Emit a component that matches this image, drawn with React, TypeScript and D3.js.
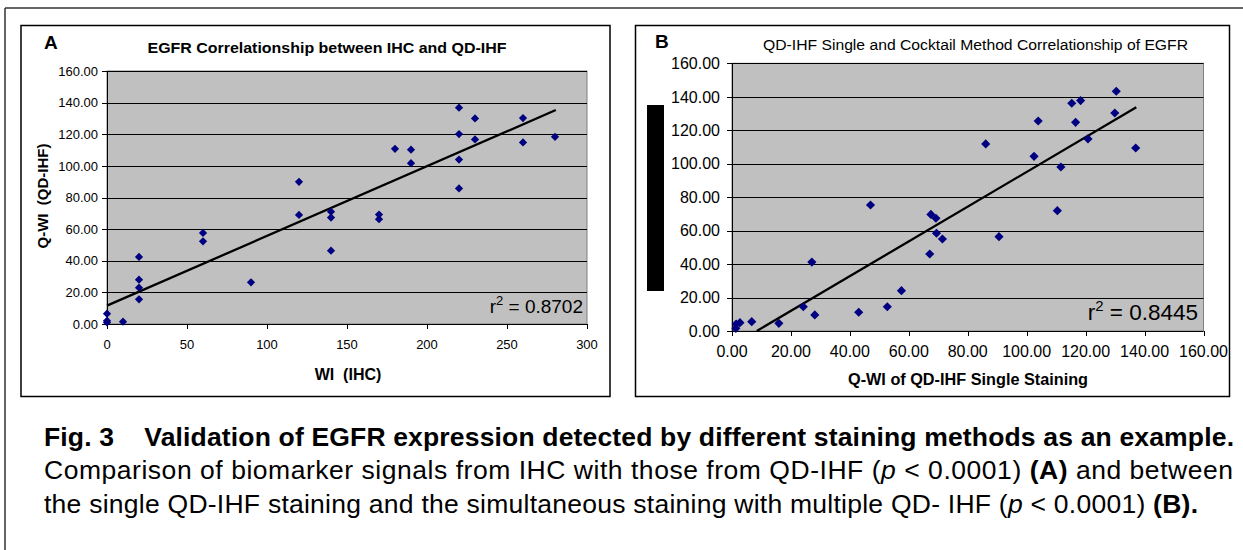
import React from 'react';
import * as d3 from 'd3';

// Panel A: WI by IHC vs Q-WI by QD-IHF
const wiIHC = [0, 0, 0, 10, 20, 20, 20, 20, 60, 60, 90, 120, 120, 140, 140, 140, 170, 170, 180, 190, 190, 220, 220, 220, 220, 230, 230, 260, 260, 280];
const qwiQD = [6.5, 2, 1, 1.5, 42.4, 28, 23, 15.6, 57.6, 52.3, 26.4, 89.9, 69, 71, 67.3, 46.4, 69.2, 66.3, 110.8, 110.2, 101.7, 136.8, 120.1, 104, 85.7, 130, 116.7, 130.2, 114.8, 118.4];
const trendAX = [0, 280.5];
const trendAY = [11.6, 135.3];
const xTicksA = [0, 50, 100, 150, 200, 250, 300];
const yTicksA = [0, 20, 40, 60, 80, 100, 120, 140, 160];

// Panel B: single staining vs cocktail staining
const singleQWI = [1.3, 1.4, 2.7, 6.7, 15.9, 24.2, 27.1, 28.1, 43, 47, 52.7, 57.5, 67.1, 67.5, 69.2, 69.4, 71.4, 86.1, 90.6, 102.5, 103.9, 110.4, 111.6, 115.3, 116.6, 118.3, 120.8, 129.9, 130.4, 137];
const cocktailQWI = [1.6, 4.2, 5, 5.6, 4.6, 14.5, 41.2, 9.6, 11.2, 75.3, 14.5, 24.1, 46, 69.7, 67.4, 58.4, 55, 111.8, 56.4, 104.4, 125.5, 71.9, 98, 136.1, 124.7, 137.7, 114.8, 130.3, 143.3, 109.4];
const trendBX = [8.4, 137.2];
const trendBY = [0, 133.7];
const xTicksB = [0, 20, 40, 60, 80, 100, 120, 140, 160];
const yTicksB = [0, 20, 40, 60, 80, 100, 120, 140, 160];

const rSquared = ['0.8702', '0.8445'];

const FONT = '"Liberation Sans", Arial, Helvetica, sans-serif';
const fmt2 = d3.format('.2f');

type Scale = d3.ScaleLinear<number, number>;

const Plot = ({ x, y, xs, ys, tx, ty, xTicks, yTicks, xFmt, tickFont, yLabelGap, xLabelY, markerSize }: {
  x: Scale; y: Scale; xs: number[]; ys: number[]; tx: number[]; ty: number[];
  xTicks: number[]; yTicks: number[]; xFmt: (v: number) => string;
  tickFont: number; yLabelGap: number; xLabelY: number; markerSize: number;
}) => {
  const [x0, x1] = x.range();
  const [y0, y1] = y.range();
  const diamond = d3.symbol(d3.symbolSquare, markerSize)()!;
  const trend = d3.line<number>().x((d) => x(d)).y((_, i) => y(ty[i]))(tx)!;
  return (
    <g>
      <rect x={x0} y={y1} width={x1 - x0} height={y0 - y1} fill="#c0c0c0" stroke="#808080" strokeWidth={1} />
      {yTicks.filter((t) => t > 0).map((t) => (
        <line key={'g' + t} x1={x0} x2={x1} y1={Math.round(y(t)) + 0.5} y2={Math.round(y(t)) + 0.5} stroke="#000" strokeWidth={1} />
      ))}
      <line x1={x0 + 0.5} x2={x0 + 0.5} y1={y1} y2={y0} stroke="#000" />
      <line x1={x0} x2={x1} y1={Math.round(y0) + 0.5} y2={Math.round(y0) + 0.5} stroke="#000" />
      {yTicks.map((t) => (
        <g key={'y' + t}>
          <line x1={x0 - 5} x2={x0} y1={Math.round(y(t)) + 0.5} y2={Math.round(y(t)) + 0.5} stroke="#000" />
          <text x={x0 - yLabelGap} y={y(t)} dy="0.36em" textAnchor="end" fontSize={tickFont}>{fmt2(t)}</text>
        </g>
      ))}
      {xTicks.map((t) => (
        <g key={'x' + t}>
          <line x1={Math.round(x(t)) + 0.5} x2={Math.round(x(t)) + 0.5} y1={y0} y2={y0 + 5} stroke="#000" />
          <text x={x(t)} y={xLabelY} textAnchor="middle" fontSize={tickFont}>{xFmt(t)}</text>
        </g>
      ))}
      <path d={trend} fill="none" stroke="#000" strokeWidth={2.3} />
      {xs.map((v, i) => (
        <path key={'p' + i} d={diamond} transform={`translate(${x(v)},${y(ys[i])}) rotate(45)`} fill="#000080" />
      ))}
    </g>
  );
};

export default function App() {
  const xA = d3.scaleLinear().domain([0, 300]).range([107, 587]);
  const yA = d3.scaleLinear().domain([0, 160]).range([324, 71]);
  const xB = d3.scaleLinear().domain([0, 160]).range([732, 1203.5]);
  const yB = d3.scaleLinear().domain([0, 160]).range([331, 63.3]);

  return (
    <svg width={1243} height={550} style={{ position: 'absolute', left: 0, top: 0, background: '#fff' }} fontFamily={FONT}>
      {/* outer figure frame */}
      <line x1={5} x2={1243} y1={8} y2={8} stroke="#333" strokeWidth={1.5} />
      <line x1={5} x2={5} y1={8} y2={550} stroke="#333" strokeWidth={1.5} />

      {/* panel A */}
      <rect x={21} y={25.5} width={589} height={371} fill="#fff" stroke="#000" strokeWidth={1.5} />
      <text x={44} y={49} fontSize={19} fontWeight="bold">A</text>
      <text x={327} y={53} fontSize={15} fontWeight="bold" textAnchor="middle" textLength={359} lengthAdjust="spacingAndGlyphs">
        EGFR Correlationship between IHC and QD-IHF
      </text>
      <Plot x={xA} y={yA} xs={wiIHC} ys={qwiQD} tx={trendAX} ty={trendAY} xTicks={xTicksA} yTicks={yTicksA}
        xFmt={(v) => String(v)} tickFont={13} yLabelGap={9} xLabelY={349} markerSize={34} />
      <text x={583} y={313} fontSize={19} textAnchor="end">
        r<tspan dy={-8} fontSize={13}>2</tspan><tspan dy={8}> = {rSquared[0]}</tspan>
      </text>
      <text x={348} y={380} fontSize={16} fontWeight="bold" textAnchor="middle" style={{ whiteSpace: 'pre' }}>WI  (IHC)</text>
      <text transform="translate(48,196) rotate(-90)" fontSize={15} fontWeight="bold" textAnchor="middle" style={{ whiteSpace: 'pre' }}>Q-WI  (QD-IHF)</text>

      {/* panel B */}
      <rect x={635.5} y={25.5} width={594} height={371} fill="#fff" stroke="#000" strokeWidth={1.5} />
      <text x={655} y={48} fontSize={19} fontWeight="bold">B</text>
      <text x={975.5} y={50} fontSize={15.5} textAnchor="middle" textLength={425} lengthAdjust="spacingAndGlyphs">
        QD-IHF Single and Cocktail Method Correlationship of EGFR
      </text>
      <rect x={647} y={105} width={17} height={186} fill="#000" />
      <Plot x={xB} y={yB} xs={singleQWI} ys={cocktailQWI} tx={trendBX} ty={trendBY} xTicks={xTicksB} yTicks={yTicksB}
        xFmt={fmt2} tickFont={16} yLabelGap={12} xLabelY={357} markerSize={42} />
      <text x={1198} y={320} fontSize={22.5} textAnchor="end">
        r<tspan dy={-9} fontSize={15}>2</tspan><tspan dy={9}> = {rSquared[1]}</tspan>
      </text>
      <text x={968} y={385} fontSize={16} fontWeight="bold" textAnchor="middle" textLength={240} lengthAdjust="spacingAndGlyphs">
        Q-WI of QD-IHF Single Staining
      </text>

      {/* caption */}
      <text x={44} y={446} fontSize={26.5} fontWeight="bold" textLength={1190} lengthAdjust="spacing" style={{ whiteSpace: 'pre' }}>
        {'Fig. 3    Validation of EGFR expression detected by different staining methods as an example.'}
      </text>
      <text x={44} y={479} fontSize={26.5} textLength={1189} lengthAdjust="spacing" style={{ whiteSpace: 'pre' }}>
        {'Comparison of biomarker signals from IHC with those from QD-IHF ('}<tspan fontStyle="italic">p</tspan>
        {' < 0.0001) '}<tspan fontWeight="bold">(A)</tspan>{' and between'}
      </text>
      <text x={44} y={513} fontSize={26.5} textLength={1154} lengthAdjust="spacing" style={{ whiteSpace: 'pre' }}>
        {'the single QD-IHF staining and the simultaneous staining with multiple QD- IHF ('}<tspan fontStyle="italic">p</tspan>
        {' < 0.0001) '}<tspan fontWeight="bold">(B).</tspan>
      </text>
    </svg>
  );
}
